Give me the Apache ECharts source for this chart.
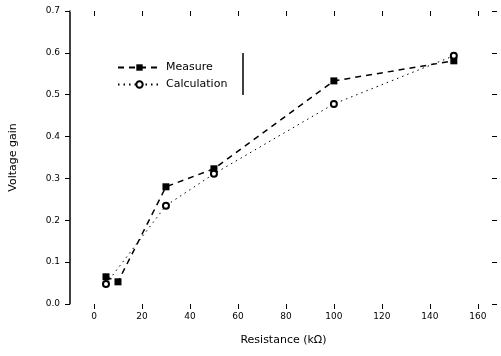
<!DOCTYPE html>
<html>
<head>
<meta charset="utf-8">
<script src="https://cdn.jsdelivr.net/npm/echarts@6/dist/echarts.min.js"></script>
<style>
  html, body { margin: 0; padding: 0; background: #fff; }
  #chart { width: 501px; height: 356px; }
</style>
</head>
<body>
<div id="chart"></div>
<script>
// values
var xTicks = [0, 20, 40, 60, 80, 100, 120, 140, 160];
var measureX = [5, 10, 30, 50, 100, 150];
var measureY = [0.065, 0.053, 0.28, 0.323, 0.533, 0.581];
var calcX = [5, 30, 50, 100, 150];
var calcY = [0.048, 0.235, 0.311, 0.478, 0.593];

function pairs(xs, ys) {
  return xs.map(function (x, i) { return [x, ys[i]]; });
}

var chart = echarts.init(document.getElementById("chart"));
var font = "DejaVu Sans";
// axis line kept "on" but white so the ticks still get drawn
var hiddenLine = { show: true, onZero: false, lineStyle: { color: "#fff", width: 0.5 } };

chart.setOption({
  animation: false,
  grid: { left: 70, right: 4, top: 11, bottom: 52 },
  legend: {
    orient: "vertical",
    left: 112,
    top: 57,
    itemWidth: 43,
    itemHeight: 8,
    itemGap: 6,
    textStyle: { fontFamily: font, fontSize: 11, color: "#000" },
    data: ["Measure", "Calculation"]
  },
  graphic: [
    {
      type: "line",
      shape: { x1: 243, y1: 53, x2: 243, y2: 95 },
      style: { stroke: "#000", lineWidth: 1.5 }
    }
  ],
  xAxis: [
    {
      type: "value",
      min: -10,
      max: 168,
      name: "Resistance (kΩ)",
      nameLocation: "middle",
      nameGap: 31,
      nameTextStyle: { fontFamily: font, fontSize: 11, color: "#000" },
      axisLine: hiddenLine,
      axisTick: { show: true, customValues: xTicks, length: 5, lineStyle: { color: "#000" } },
      axisLabel: { customValues: xTicks, fontFamily: font, fontSize: 9, color: "#000", margin: 8 },
      splitLine: { show: false }
    },
    {
      type: "value",
      position: "top",
      min: -10,
      max: 168,
      axisLine: hiddenLine,
      axisTick: { show: true, inside: true, customValues: xTicks, length: 5, lineStyle: { color: "#000" } },
      axisLabel: { show: false },
      splitLine: { show: false }
    }
  ],
  yAxis: [
    {
      type: "value",
      min: 0,
      max: 0.7,
      interval: 0.1,
      name: "Voltage gain",
      nameLocation: "middle",
      nameGap: 51,
      nameTextStyle: { fontFamily: font, fontSize: 11, color: "#000" },
      axisLine: { show: true, onZero: false, lineStyle: { color: "#000", width: 1.5 } },
      axisTick: { show: true, length: 5, lineStyle: { color: "#000" } },
      axisLabel: {
        fontFamily: font, fontSize: 9, color: "#000", margin: 10,
        formatter: function (v) { return v.toFixed(1); }
      },
      splitLine: { show: false }
    },
    {
      type: "value",
      position: "right",
      min: 0,
      max: 0.7,
      interval: 0.1,
      axisLine: hiddenLine,
      axisTick: { show: true, inside: true, length: 5, lineStyle: { color: "#000" } },
      axisLabel: { show: false },
      splitLine: { show: false }
    }
  ],
  series: [
    {
      name: "Measure",
      type: "line",
      data: pairs(measureX, measureY),
      symbol: "rect",
      symbolSize: 7,
      itemStyle: { color: "#000" },
      lineStyle: { color: "#000", width: 1.5, type: [6, 5] }
    },
    {
      name: "Calculation",
      type: "line",
      data: pairs(calcX, calcY),
      symbol: "emptyCircle",
      symbolSize: 6,
      itemStyle: { color: "#000", borderColor: "#000", borderWidth: 1 },
      lineStyle: { color: "#000", width: 1, type: [1.5, 4] }
    }
  ]
});
</script>
</body>
</html>
